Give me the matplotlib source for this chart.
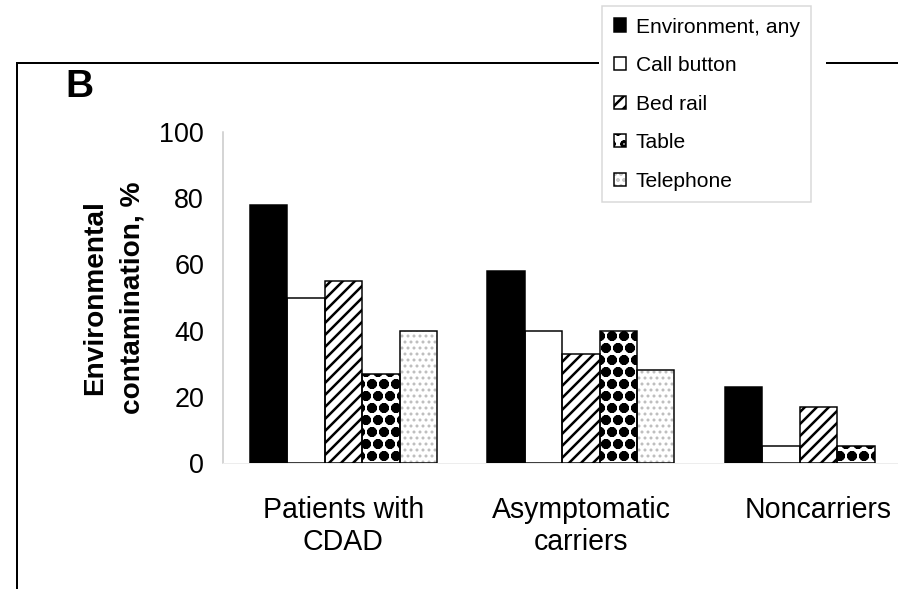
import matplotlib
matplotlib.use("Agg")
import matplotlib.pyplot as plt
from matplotlib.lines import Line2D
import numpy as np

plt.rcParams['font.family'] = ['Liberation Sans', 'DejaVu Sans']
plt.rcParams['hatch.linewidth'] = 2.5

# Data
groups = ["Patients with\nCDAD", "Asymptomatic\ncarriers", "Noncarriers"]
sites = ["Environment, any", "Call button", "Bed rail", "Table", "Telephone"]
env_any = [78, 58, 23]
call_button = [50, 40, 5]
bed_rail = [55, 33, 17]
table = [27, 40, 5]
telephone = [40, 28, 0]
yticks = [0, 20, 40, 60, 80, 100]

series = [env_any, call_button, bed_rail, table, telephone]

# fill style per site: face colour, hatch, hatch colour, hatch width
styles = [
    ("black", None, "black", 2.5),
    ("white", None, "black", 2.5),
    ("white", "//", "black", 2.5),
    ("white", "o", "black", 5.0),
    ("white", "..", "#bdbdbd", 1.8),
]

DPI = 72  # 1 pt == 1 px
W, H = 898, 589
fig = plt.figure(figsize=(W / DPI, H / DPI), dpi=DPI)
ax = fig.add_axes([223 / W, 126 / H, (W - 223) / W, 331 / H])

x = np.arange(len(groups))
w = 0.1575
handles = []
for i, (vals, (face, hatch, hcol, hlw)) in enumerate(zip(series, styles)):
    pos = x + (i - 2) * w
    fill = ax.bar(pos, vals, w, color=face, edgecolor=hcol, hatch=hatch,
                  linewidth=0, zorder=2)
    for p in fill:
        if hasattr(p, "set_hatch_linewidth"):
            p.set_hatch_linewidth(hlw)
    lws = [1.5 if v > 0 else 0 for v in vals]
    outline = ax.bar(pos, vals, w, fill=False, edgecolor="black",
                     linewidth=lws, zorder=3)
    handles.append((fill[0], outline[0]))

ax.set_xlim(-0.507, 2.335)
ax.set_ylim(0, 100)
ax.set_yticks(yticks)
ax.set_xticks(x)
ax.set_xticklabels(groups)
ax.tick_params(axis="y", length=0, pad=19, labelsize=27)
ax.tick_params(axis="x", length=0, pad=33, labelsize=28.5)
for s in ("top", "right"):
    ax.spines[s].set_visible(False)
ax.spines["left"].set_color("#c8c8c8")
ax.spines["left"].set_linewidth(1.5)
ax.spines["bottom"].set_color("#ededed")
ax.spines["bottom"].set_linewidth(1.0)

ax.set_ylabel("Environmental\ncontamination, %", fontsize=28,
              fontweight="bold", labelpad=14, linespacing=1.55)

# Panel letter and panel border
fig.text(65 / W, 1 - 97 / H, "B", fontsize=39, fontweight="bold",
         va="baseline")
lw_frame = 2
fig.add_artist(Line2D([17 / W, 598 / W], [1 - 63 / H] * 2, color="black",
                      lw=lw_frame, transform=fig.transFigure))
fig.add_artist(Line2D([827 / W, 1.0], [1 - 63 / H] * 2, color="black",
                      lw=lw_frame, transform=fig.transFigure))
fig.add_artist(Line2D([17 / W] * 2, [1 - 63 / H, 0], color="black",
                      lw=lw_frame, transform=fig.transFigure))

leg = fig.legend(handles, sites, loc="upper left",
                 bbox_to_anchor=(602 / W, 1 - 6 / H), frameon=True,
                 fancybox=False, edgecolor="#cfcfcf", fontsize=21,
                 handlelength=0.6, handleheight=0.6, handletextpad=0.45,
                 labelspacing=0.93, borderpad=0.55, borderaxespad=0)
leg.get_frame().set_linewidth(1.5)

fig.savefig("out.png", dpi=DPI)
